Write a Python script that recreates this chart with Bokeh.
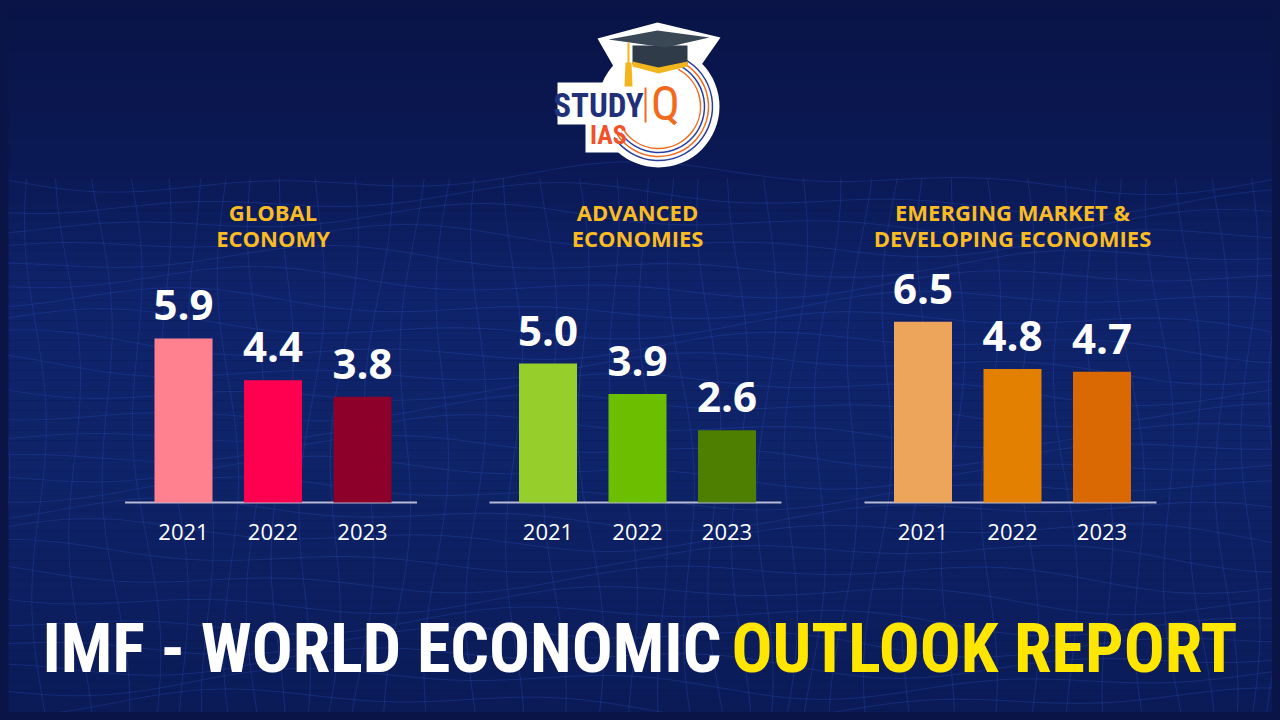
import numpy as np
from bokeh.plotting import figure
from bokeh.models import Range1d, Label
from bokeh.embed import file_html
from bokeh.resources import INLINE
from bokeh.core.properties import value

# ---------------- data ----------------
years = ["2021", "2022", "2023"]
group_titles = [["GLOBAL", "ECONOMY"],
                ["ADVANCED", "ECONOMIES"],
                ["EMERGING MARKET &", "DEVELOPING ECONOMIES"]]
global_growth = [5.9, 4.4, 3.8]
advanced_growth = [5.0, 3.9, 2.6]
emerging_growth = [6.5, 4.8, 4.7]
series = [global_growth, advanced_growth, emerging_growth]

# ---------------- styles / layout ----------------
bar_colors = [["#ff8190", "#ff0050", "#8c0029"],
              ["#96cf2c", "#6cbf00", "#4e7f00"],
              ["#eca55a", "#e38002", "#da6803"]]
group_centers = [272.5, 637.0, 1012.0]
bar_step = 89.5
bar_width = 58
BASE_PX = 502.0
PX_PER_UNIT = 27.8
W, H = 1264, 704


def Y(px):
    return (BASE_PX - px) / PX_PER_UNIT


def LY(baseline_px, size):
    # Label position for a wanted alphabetic baseline (empirical shift)
    return Y(baseline_px - 0.39 * size)


p = figure(width=W, height=H, output_backend="svg", toolbar_location=None,
           x_range=Range1d(8, 8 + W), y_range=Range1d(Y(8 + H), Y(8)),
           min_border=0, background_fill_color="#0b1648")
p.axis.visible = False
p.grid.visible = False
p.outline_line_color = None

# ---- background gradient ----
stops_px = [0, 170, 300, 470, 720]
stops_col = [(9, 19, 70), (11, 26, 86), (16, 36, 108), (15, 35, 104), (11, 27, 88)]
n = 72
edges = np.linspace(0, 720, n + 1)
cols = []
for i in range(n):
    m = (edges[i] + edges[i + 1]) / 2
    c = [int(np.interp(m, stops_px, [s[k] for s in stops_col])) for k in range(3)]
    cols.append("#%02x%02x%02x" % tuple(c))
p.quad(left=0, right=1280, top=[Y(e) for e in edges[:-1]], bottom=[Y(e) for e in edges[1:]],
       fill_color=cols, line_color=None)

# ---- decorative wireframe ----
xs_h, ys_h = [], []
xx = np.linspace(0, 1280, 120)
for j in range(26):
    base = 178 + j * 21
    yy = base + 10 * np.sin(xx / 140.0 + j * 0.6) + 7 * np.sin(xx / 57.0 + j * 1.3)
    xs_h.append(list(xx))
    ys_h.append([Y(v) for v in yy])
yy2 = np.linspace(178, 720, 80)
for k in range(42):
    bx = k * 32
    x2 = bx + 9 * np.sin(yy2 / 60.0 + k * 0.9) + (yy2 - 175) * 0.05 * np.sin(k * 0.4)
    xs_h.append(list(x2))
    ys_h.append([Y(v) for v in yy2])
p.multi_line(xs=xs_h, ys=ys_h, line_color="#2b52c0", line_alpha=0.3, line_width=1)

# ---- bars ----
FONT = "Open Sans"
for g, vals in enumerate(series):
    c = group_centers[g]
    xs = [c + (i - 1) * bar_step for i in range(len(years))]
    p.segment(x0=[c - 148], x1=[c + 144], y0=[0], y1=[0], line_color="#b6bad6", line_width=2)
    p.vbar(x=xs, top=vals, bottom=0, width=bar_width, fill_color=bar_colors[g], line_color=None)
    p.text(x=xs, y=vals, text=["%.1f" % v for v in vals], y_offset=-33,
           text_align="center", text_baseline="alphabetic", text_color="white",
           text_font=value(FONT), text_font_style="bold", text_font_size="42px")
    p.text(x=xs, y=[0] * len(xs), text=years, y_offset=29,
           text_align="center", text_baseline="alphabetic", text_color="white",
           text_font=value(FONT), text_font_size="22px")
    for li, line in enumerate(group_titles[g]):
        p.add_layout(Label(x=c, y=Y(211 + 26.5 * li), text=line, text_align="center",
                           text_baseline="alphabetic", text_color="#fbbb22",
                           text_font=FONT, text_font_style="bold", text_font_size="22px"))

# ---- logo ----
lc = (658, 106)
p.circle(x=[lc[0]], y=[Y(lc[1])], radius=61, fill_color="white", line_color=None)
p.quad(left=[557], right=[652], top=[Y(82)], bottom=[Y(124)], fill_color="white", line_color=None)
p.quad(left=[585], right=[640], top=[Y(116)], bottom=[Y(152)], fill_color="white", line_color=None)
p.patch(x=[597, 657, 720, 690, 660, 628], y=[Y(38), Y(22), Y(37), Y(80), Y(82), Y(92)],
        fill_color="white", line_color=None)
for r, col in [(54, "#2b3f9e"), (50, "#f26a1b"), (46, "#2b3f9e"), (42, "#f26a1b")]:
    p.arc(x=[lc[0]], y=[Y(lc[1])], radius=r, start_angle=np.radians(-145),
          end_angle=np.radians(62), line_color=col, line_width=1.5)
# mortarboard
p.patch(x=[632, 687, 687, 658, 632], y=[Y(45), Y(45), Y(64), Y(70), Y(64)],
        fill_color="#2f3b48", line_color=None)
p.patch(x=[632, 658, 687, 687, 658, 632], y=[Y(61), Y(67), Y(61), Y(66), Y(73), Y(66)],
        fill_color="#f2b51d", line_color=None)
p.patch(x=[608, 657, 709, 665], y=[Y(39), Y(30), Y(37), Y(47)], fill_color="#3a4856", line_color=None)
p.segment(x0=[628], x1=[628], y0=[Y(42)], y1=[Y(70)], line_color="#f2b51d", line_width=2)
p.patch(x=[625, 631, 632, 624], y=[Y(62), Y(62), Y(86), Y(86)], fill_color="#f2b51d", line_color=None)
p.add_layout(Label(x=598, y=LY(118, 33), text="STUDY", text_align="center", text_baseline="alphabetic",
                   text_color="#22307a", text_font="Roboto Condensed", text_font_style="bold",
                   text_font_size="33px"))
p.add_layout(Label(x=608, y=LY(145, 26), text="IAS", text_align="center", text_baseline="alphabetic",
                   text_color="#f0532a", text_font="Roboto Condensed", text_font_style="bold",
                   text_font_size="26px"))
p.segment(x0=[645], x1=[645], y0=[Y(87)], y1=[Y(122)], line_color="#f26a1b", line_width=2)
p.add_layout(Label(x=665, y=LY(122, 48), text="Q", text_align="center", text_baseline="alphabetic",
                   text_color="#f26a1b", text_font="Roboto Condensed", text_font_size="48px"))

# ---- big title ----
TF = "Roboto Condensed"
p.add_layout(Label(x=42, y=LY(675, 68), text="IMF - WORLD ECONOMIC", text_align="left",
                   text_baseline="alphabetic", text_color="white", text_font=TF,
                   text_font_style="bold", text_font_size="68px"))
p.add_layout(Label(x=1237, y=LY(675, 68), text="OUTLOOK REPORT", text_align="right",
                   text_baseline="alphabetic", text_color="#ffe600", text_font=TF,
                   text_font_style="bold", text_font_size="68px"))

html = file_html(p, INLINE)
html = html.replace("</head>", "<style>body{background:#0a1446;margin:8px;}</style></head>", 1)
open("out.html", "w").write(html)
